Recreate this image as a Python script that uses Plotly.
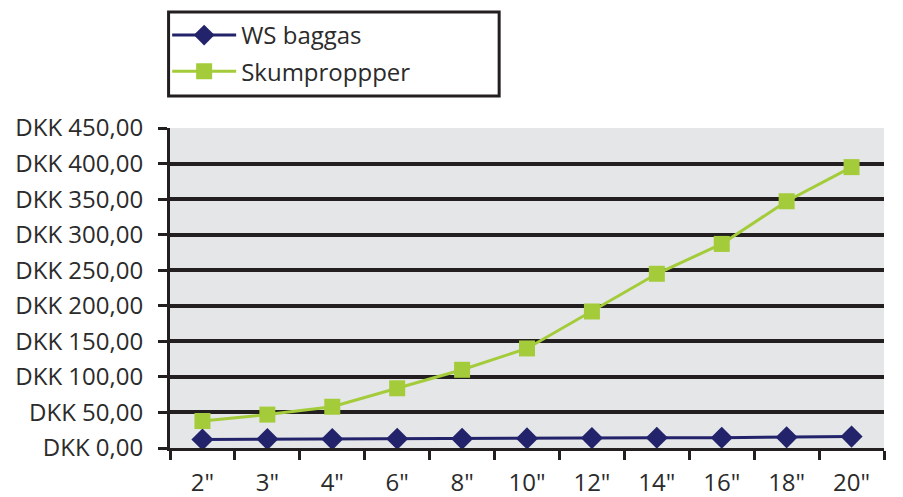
import plotly.graph_objects as go

categories = ['2"', '3"', '4"', '6"', '8"', '10"', '12"', '14"', '16"', '18"', '20"']
ws_baggas = [12, 12.5, 12.5, 13, 13, 13.5, 14, 14.5, 14.5, 15, 16]
skumproppper = [38, 47, 58, 84, 110, 140, 192, 245, 287, 347, 395]
y_tickvals = [0, 50, 100, 150, 200, 250, 300, 350, 400, 450]
y_ticktext = ["DKK 0,00", "DKK 50,00", "DKK 100,00", "DKK 150,00", "DKK 200,00",
              "DKK 250,00", "DKK 300,00", "DKK 350,00", "DKK 400,00", "DKK 450,00"]

FONT = "Open Sans"
DARK = "#231f20"
TEXT = "#2b2b2b"
FS = 24

# page body has an 8px margin; the figure is sized/placed to compensate
W, H = 887, 489
L, T, PW, PH = 162, 120, 714, 320

fig = go.Figure()
fig.add_trace(go.Scatter(
    x=categories, y=ws_baggas, name="WS baggas", mode="lines+markers",
    legendgroup="a",
    line=dict(color="#23236b", width=3),
    marker=dict(symbol="diamond", size=17, color="#23236b"),
))
fig.add_trace(go.Scatter(
    x=categories, y=skumproppper, name="Skumproppper", mode="lines+markers",
    legendgroup="b",
    line=dict(color="#a4cc3a", width=3),
    marker=dict(symbol="square", size=16, color="#a4cc3a"),
))

fig.update_layout(
    width=W, height=H,
    margin=dict(l=L, r=W - L - PW, t=T, b=H - T - PH, autoexpand=False),
    paper_bgcolor="white",
    plot_bgcolor="#e5e6e8",
    font=dict(family=FONT, size=FS, color=TEXT),
    showlegend=True,
    legend=dict(
        x=-0.004, y=1.0 + (120 - 5) / 320, xanchor="left", yanchor="top",
        bgcolor="rgba(0,0,0,0)", borderwidth=0,
        font=dict(family=FONT, size=FS, color=TEXT),
        itemwidth=64, tracegroupgap=2,
    ),
    shapes=[dict(
        type="rect", xref="paper", yref="paper",
        x0=-0.002, x1=0.461, y0=1.0 + (120 - 88) / 320, y1=1.0 + (120 - 4) / 320,
        line=dict(color=DARK, width=3), fillcolor="rgba(0,0,0,0)", layer="above",
    )],
    xaxis=dict(
        type="category", tickson="boundaries", automargin=False,
        range=[-0.5, len(categories) - 0.5],
        showline=True, linecolor=DARK, linewidth=3,
        ticks="outside", ticklen=9, tickwidth=3, tickcolor=DARK,
        ticklabelstandoff=11,
        showgrid=False, zeroline=False,
        tickfont=dict(family=FONT, size=FS, color=TEXT),
    ),
    yaxis=dict(
        range=[0, 450], tickvals=y_tickvals, ticktext=y_ticktext, automargin=False,
        showline=True, linecolor=DARK, linewidth=3,
        ticks="outside", ticklen=9, tickwidth=3, tickcolor=DARK,
        ticklabelstandoff=10,
        showgrid=True, gridcolor=DARK, gridwidth=4,
        zeroline=False,
        tickfont=dict(family=FONT, size=FS, color=TEXT),
    ),
)

fig.write_html("out.html")
